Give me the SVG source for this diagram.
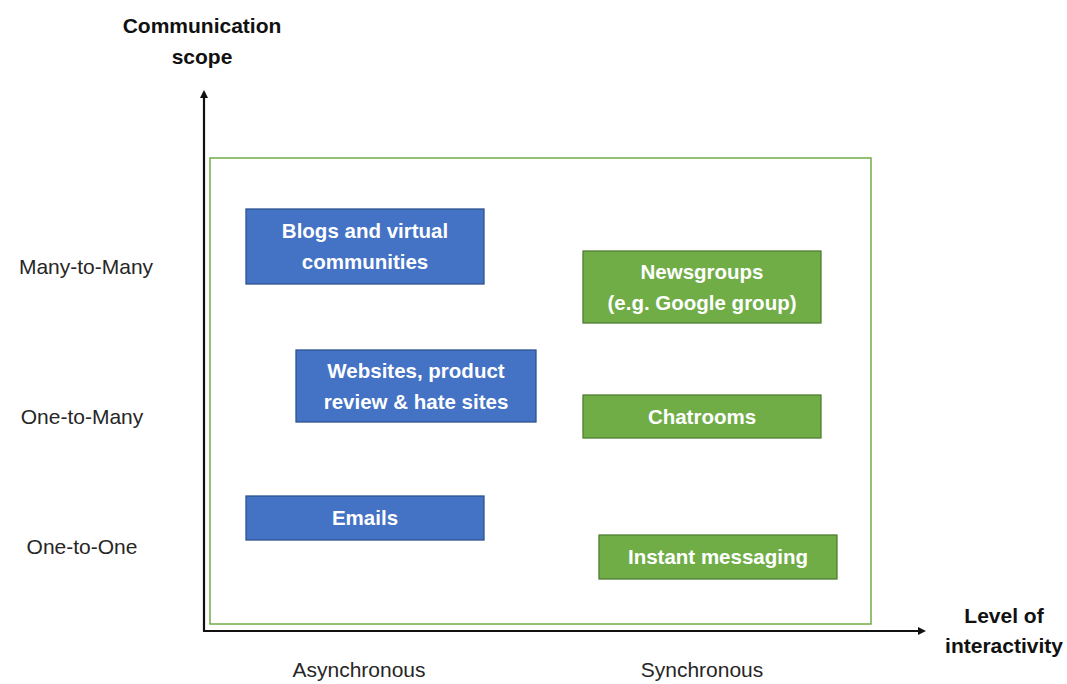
<svg xmlns="http://www.w3.org/2000/svg" width="1067" height="684" viewBox="0 0 1067 684">
<style>
text{font-family:"Liberation Sans",Arial,sans-serif;}
.lbl{font-size:21px;fill:#262626;}
.ttl{font-size:21px;font-weight:bold;fill:#111;}
.bt{font-size:20.5px;font-weight:bold;fill:#fff;}
.blue{fill:#4472C4;stroke:#2F528F;stroke-width:1.3;}
.green{fill:#70AD47;stroke:#507E32;stroke-width:1.3;}
.ax{stroke:#111;stroke-width:2.2;fill:none;}
</style>
<defs>
<marker id="ah" markerWidth="8" markerHeight="8" refX="6" refY="4" orient="auto" markerUnits="userSpaceOnUse">
<path d="M0,0 L8,4 L0,8 Z" fill="#111"/>
</marker>
</defs>
<rect width="1067" height="684" fill="#fff"/>
<g id="frame"><rect x="210" y="158" width="661" height="466" fill="none" stroke="#70AD47" stroke-width="1.5"/></g>
<g id="connectors">
<path class="ax" d="M204,631 V92" marker-end="url(#ah)"/>
<path class="ax" d="M203,631 H924" marker-end="url(#ah)"/>
</g>
<g id="axis-labels" text-anchor="middle">
<text class="ttl" x="202" y="33">Communication</text>
<text class="ttl" x="202" y="64">scope</text>
<text class="ttl" x="1004" y="623">Level of</text>
<text class="ttl" x="1004" y="653">interactivity</text>
<text class="lbl" x="86" y="274">Many-to-Many</text>
<text class="lbl" x="82" y="424">One-to-Many</text>
<text class="lbl" x="82" y="554">One-to-One</text>
<text class="lbl" x="359" y="677">Asynchronous</text>
<text class="lbl" x="702" y="677">Synchronous</text>
</g>
<g id="blogs"><rect class="blue" x="246" y="209" width="238" height="75"/><text class="bt" x="365" y="238" text-anchor="middle">Blogs and virtual</text><text class="bt" x="365" y="269" text-anchor="middle">communities</text></g>
<g id="newsgroups"><rect class="green" x="583" y="251" width="238" height="72"/><text class="bt" x="702" y="279" text-anchor="middle">Newsgroups</text><text class="bt" x="702" y="310" text-anchor="middle">(e.g. Google group)</text></g>
<g id="websites"><rect class="blue" x="296" y="350" width="240" height="72"/><text class="bt" x="416" y="378" text-anchor="middle">Websites, product</text><text class="bt" x="416" y="409" text-anchor="middle">review &amp; hate sites</text></g>
<g id="chatrooms"><rect class="green" x="583" y="395" width="238" height="43"/><text class="bt" x="702" y="424" text-anchor="middle">Chatrooms</text></g>
<g id="emails"><rect class="blue" x="246" y="496" width="238" height="44"/><text class="bt" x="365" y="525" text-anchor="middle">Emails</text></g>
<g id="im"><rect class="green" x="599" y="535" width="238" height="44"/><text class="bt" x="718" y="564" text-anchor="middle">Instant messaging</text></g>
</svg>
